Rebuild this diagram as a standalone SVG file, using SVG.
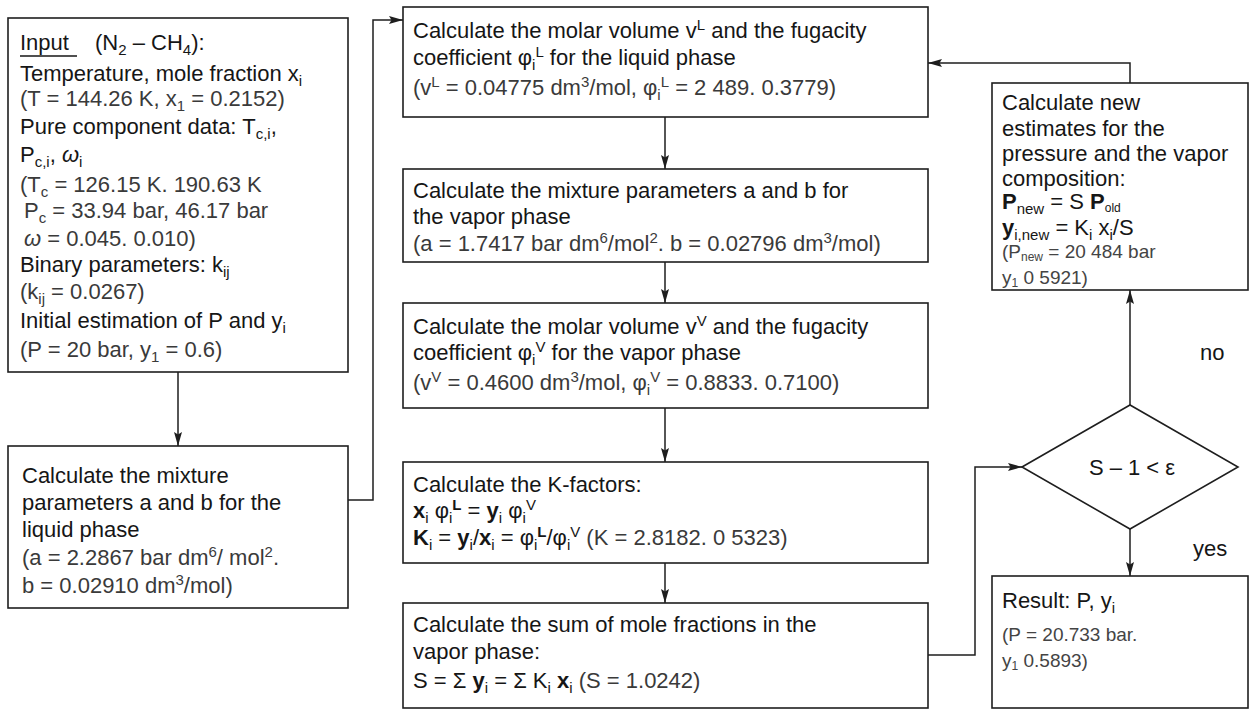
<svg xmlns="http://www.w3.org/2000/svg" width="1257" height="713" viewBox="0 0 1257 713">
  <style>
    .box { fill: #fff; stroke: #1e1e1e; stroke-width: 1.6; }
    .ln { fill: none; stroke: #1e1e1e; stroke-width: 1.5; }
    text { font-family: "Liberation Sans", Arial, Helvetica, sans-serif; font-size: 22px; fill: #161616; }
    .v { fill: #3a3a3a; }
    .sm { font-size: 19px; fill: #444; }
    .b { font-weight: bold; }
    .sb { font-size: 15px; baseline-shift: -5px; }
    .sp { font-size: 15px; baseline-shift: 8px; }
    .ss { font-size: 12px; baseline-shift: -3px; }
    .mid { text-anchor: middle; }
  </style>
  <defs>
    <marker id="ah" viewBox="0 0 14 8" refX="14" refY="4" markerWidth="14" markerHeight="8" markerUnits="userSpaceOnUse" orient="auto">
      <path d="M0,0 L14,4 L0,8 L2.5,4 z" fill="#1e1e1e"/>
    </marker>
  </defs>

  <!-- connectors -->
  <g id="connectors">
    <path class="ln" d="M178,372 V446" marker-end="url(#ah)"/>
    <path class="ln" d="M348,500 H373 V20 H403" marker-end="url(#ah)"/>
    <path class="ln" d="M665,117 V169" marker-end="url(#ah)"/>
    <path class="ln" d="M665,262 V303" marker-end="url(#ah)"/>
    <path class="ln" d="M665,408 V462" marker-end="url(#ah)"/>
    <path class="ln" d="M665,563 V603" marker-end="url(#ah)"/>
    <path class="ln" d="M928,655 H975 V467 H1022" marker-end="url(#ah)"/>
    <path class="ln" d="M1130,529 V576" marker-end="url(#ah)"/>
    <path class="ln" d="M1130,405 V290" marker-end="url(#ah)"/>
    <path class="ln" d="M1130,83 V63 H928" marker-end="url(#ah)"/>
    <text x="1200" y="360">no</text>
    <text x="1193" y="556">yes</text>
  </g>

  <!-- input data -->
  <g id="input">
    <rect class="box" x="8" y="18" width="340" height="354"/>
    <text x="20" y="50">Input</text>
    <line x1="20" y1="56" x2="77" y2="56" stroke="#161616" stroke-width="1.6"/>
    <text x="95" y="50">(N<tspan class="sb">2</tspan> – CH<tspan class="sb">4</tspan>):</text>
    <text x="20" y="81">Temperature, mole fraction x<tspan class="sb">i</tspan></text>
    <text x="20" y="106" class="v">(T = 144.26 K, x<tspan class="sb">1</tspan> = 0.2152)</text>
    <text x="20" y="134">Pure component data: T<tspan class="sb">c,i</tspan>,</text>
    <text x="20" y="162">P<tspan class="sb">c,i</tspan>, <tspan font-style="italic">ω</tspan><tspan class="sb">i</tspan></text>
    <text x="20" y="192" class="v">(T<tspan class="sb">c</tspan> = 126.15 K. 190.63 K</text>
    <text x="24" y="218" class="v">P<tspan class="sb">c</tspan> = 33.94 bar, 46.17 bar</text>
    <text x="24" y="246" class="v"><tspan font-style="italic">ω</tspan> = 0.045. 0.010)</text>
    <text x="20" y="272">Binary parameters: k<tspan class="sb">ij</tspan></text>
    <text x="20" y="299" class="v">(k<tspan class="sb">ij</tspan> = 0.0267)</text>
    <text x="20" y="328">Initial estimation of P and y<tspan class="sb">i</tspan></text>
    <text x="20" y="357" class="v">(P = 20 bar, y<tspan class="sb">1</tspan> = 0.6)</text>
  </g>

  <!-- liquid mixture parameters -->
  <g id="liquid-params">
    <rect class="box" x="8" y="446" width="340" height="162"/>
    <text x="22" y="483">Calculate the mixture</text>
    <text x="22" y="510">parameters a and b for the</text>
    <text x="22" y="537">liquid phase</text>
    <text x="22" y="565" class="v">(a = 2.2867 bar dm<tspan class="sp">6</tspan>/ mol<tspan class="sp">2</tspan>.</text>
    <text x="22" y="593" class="v">b = 0.02910 dm<tspan class="sp">3</tspan>/mol)</text>
  </g>

  <!-- liquid molar volume and fugacity -->
  <g id="liquid-fugacity">
    <rect class="box" x="403" y="7" width="525" height="110"/>
    <text x="413" y="38">Calculate the molar volume v<tspan class="sp">L</tspan> and the fugacity</text>
    <text x="413" y="65">coefficient  φ<tspan class="sb">i</tspan><tspan class="sp">L</tspan> for the liquid phase</text>
    <text x="413" y="95" class="v">(v<tspan class="sp">L</tspan> = 0.04775 dm<tspan class="sp">3</tspan>/mol, φ<tspan class="sb">i</tspan><tspan class="sp">L</tspan> = 2 489. 0.3779)</text>
  </g>

  <!-- vapor mixture parameters -->
  <g id="vapor-params">
    <rect class="box" x="403" y="169" width="525" height="93"/>
    <text x="413" y="198">Calculate the mixture parameters a and b for</text>
    <text x="413" y="224">the vapor phase</text>
    <text x="413" y="251" class="v">(a = 1.7417 bar dm<tspan class="sp">6</tspan>/mol<tspan class="sp">2</tspan>. b = 0.02796 dm<tspan class="sp">3</tspan>/mol)</text>
  </g>

  <!-- vapor molar volume and fugacity -->
  <g id="vapor-fugacity">
    <rect class="box" x="403" y="303" width="525" height="105"/>
    <text x="413" y="334">Calculate the molar volume v<tspan class="sp">V</tspan> and the fugacity</text>
    <text x="413" y="360">coefficient  φ<tspan class="sb">i</tspan><tspan class="sp">V</tspan> for the vapor phase</text>
    <text x="413" y="390" class="v">(v<tspan class="sp">V</tspan> = 0.4600 dm<tspan class="sp">3</tspan>/mol,  φ<tspan class="sb">i</tspan><tspan class="sp">V</tspan> = 0.8833. 0.7100)</text>
  </g>

  <!-- K-factors -->
  <g id="k-factors">
    <rect class="box" x="403" y="462" width="525" height="101"/>
    <text x="413" y="492">Calculate the K-factors:</text>
    <text x="413" y="518"><tspan class="b">x</tspan><tspan class="sb">i</tspan> φ<tspan class="sb">i</tspan><tspan class="sp b">L</tspan> = <tspan class="b">y</tspan><tspan class="sb">i</tspan> φ<tspan class="sb">i</tspan><tspan class="sp">V</tspan></text>
    <text x="413" y="545"><tspan class="b">K</tspan><tspan class="sb">i</tspan> = <tspan class="b">y</tspan><tspan class="sb">i</tspan>/<tspan class="b">x</tspan><tspan class="sb">i</tspan> = φ<tspan class="sb">i</tspan><tspan class="sp b">L</tspan>/φ<tspan class="sb">i</tspan><tspan class="sp">V</tspan> <tspan class="v">(K = 2.8182. 0 5323)</tspan></text>
  </g>

  <!-- sum of mole fractions -->
  <g id="sum">
    <rect class="box" x="403" y="603" width="525" height="105"/>
    <text x="413" y="632">Calculate the sum of mole fractions in the</text>
    <text x="413" y="659">vapor phase:</text>
    <text x="413" y="688">S = Σ <tspan class="b">y</tspan><tspan class="sb">i</tspan> =  Σ K<tspan class="sb">i</tspan> <tspan class="b">x</tspan><tspan class="sb">i</tspan> <tspan class="v">(S = 1.0242)</tspan></text>
  </g>

  <!-- convergence test -->
  <g id="test">
    <polygon class="box" points="1022,467 1130,405 1238,467 1130,529"/>
    <text x="1132" y="475" class="mid">S – 1 &lt; ε</text>
  </g>

  <!-- new estimates -->
  <g id="new-estimates">
    <rect class="box" x="992" y="83" width="256" height="207"/>
    <text x="1002" y="110">Calculate new</text>
    <text x="1002" y="136">estimates for the</text>
    <text x="1002" y="161">pressure and the vapor</text>
    <text x="1002" y="186">composition:</text>
    <text x="1002" y="209"><tspan class="b">P</tspan><tspan class="sb">new</tspan> = S <tspan class="b">P</tspan><tspan class="ss">old</tspan></text>
    <text x="1002" y="235"><tspan class="b">y</tspan><tspan class="sb">i,new</tspan> = K<tspan class="sb">i</tspan> x<tspan class="sb">i</tspan>/S</text>
    <text x="1002" y="258" class="sm">(P<tspan class="ss">new</tspan> = 20 484 bar</text>
    <text x="1002" y="284" class="sm">y<tspan class="ss">1</tspan>   0 5921)</text>
  </g>

  <!-- result -->
  <g id="result">
    <rect class="box" x="992" y="576" width="256" height="132"/>
    <text x="1002" y="608">Result:  P, y<tspan class="sb">i</tspan></text>
    <text x="1002" y="641" class="sm">(P = 20.733 bar.</text>
    <text x="1002" y="667" class="sm">y<tspan class="ss">1</tspan>   0.5893)</text>
  </g>
</svg>
